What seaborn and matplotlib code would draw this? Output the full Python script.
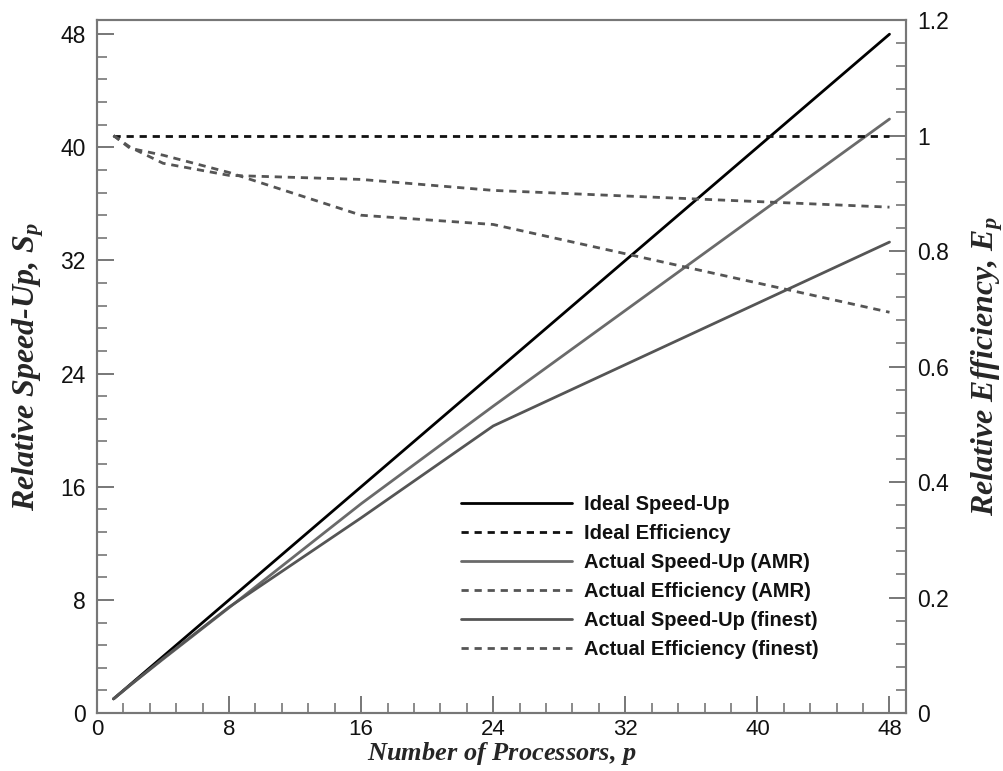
import numpy as np
import pandas as pd
import seaborn as sns
import matplotlib.pyplot as plt
from matplotlib.ticker import MultipleLocator

sns.set_style("ticks")
plt.rcParams['font.family'] = ['Liberation Sans', 'DejaVu Sans']
plt.rcParams['mathtext.fontset'] = 'custom'
plt.rcParams['mathtext.it'] = 'Liberation Serif:bold:italic'
plt.rcParams['mathtext.rm'] = 'Liberation Serif:bold'

# number of processors
procs = [1, 2, 4, 8, 16, 24, 48]

# speed-up (left axis)
ideal_speedup = [1, 2, 4, 8, 16, 24, 48]
amr_speedup = [1, 1.96, 3.81, 7.45, 14.8, 21.7, 42.0]
finest_speedup = [1, 1.96, 3.86, 7.49, 13.8, 20.3, 33.3]

# efficiency (right axis)
ideal_eff = [1, 1, 1, 1, 1, 1, 1]
amr_eff = [1, 0.98, 0.952, 0.931, 0.924, 0.905, 0.876]
finest_eff = [1, 0.978, 0.966, 0.936, 0.862, 0.846, 0.694]

labels = ["Ideal Speed-Up", "Ideal Efficiency",
          "Actual Speed-Up (AMR)", "Actual Efficiency (AMR)",
          "Actual Speed-Up (finest)", "Actual Efficiency (finest)"]

df = pd.DataFrame({"p": procs,
                   "ideal_s": ideal_speedup, "amr_s": amr_speedup, "fin_s": finest_speedup,
                   "ideal_e": ideal_eff, "amr_e": amr_eff, "fin_e": finest_eff})

fig = plt.figure(figsize=(10.04, 7.71), dpi=100)
ax = fig.add_axes([0.0966, 0.0752, 0.8058, 0.8988])
ax2 = ax.twinx()

lw = 2.0
dash = (2.6, 2.1)
sns.lineplot(data=df, x="p", y="ideal_s", ax=ax, color="#000000", lw=lw, label=labels[0])
sns.lineplot(data=df, x="p", y="amr_s", ax=ax, color="#6a6a6a", lw=lw, label=labels[2])
sns.lineplot(data=df, x="p", y="fin_s", ax=ax, color="#555555", lw=lw, label=labels[4])
sns.lineplot(data=df, x="p", y="ideal_e", ax=ax2, color="#111111", lw=lw, label=labels[1])
sns.lineplot(data=df, x="p", y="amr_e", ax=ax2, color="#555555", lw=lw, label=labels[3])
sns.lineplot(data=df, x="p", y="fin_e", ax=ax2, color="#555555", lw=lw, label=labels[5])
for ln in ax2.get_lines():
    ln.set_dashes(dash)

ax.set_xlim(0, 49)
ax.set_ylim(0, 49)
ax2.set_ylim(0, 1.2)

ax.xaxis.set_major_locator(MultipleLocator(8))
ax.xaxis.set_minor_locator(MultipleLocator(1.6))
ax.yaxis.set_major_locator(MultipleLocator(8))
ax.yaxis.set_minor_locator(MultipleLocator(1.6))
ax2.yaxis.set_minor_locator(MultipleLocator(0.04))
ax2.set_yticks([0, 0.2, 0.4, 0.6, 0.8, 1.0, 1.2])
ax2.set_yticklabels(["0", "0.2", "0.4", "0.6", "0.8", "1", "1.2"])

spine_c = "#777777"
for a in (ax, ax2):
    for s in a.spines.values():
        s.set_color(spine_c)
        s.set_linewidth(1.5)
    a.tick_params(which="major", direction="in", length=12, width=1.4, color=spine_c,
                  labelsize=16.5, pad=8, labelcolor="#111111")
    a.tick_params(which="minor", direction="in", length=7, width=1.2, color=spine_c)
ax.tick_params(axis="x", which="both", top=False, pad=4, labelsize=16)
ax.tick_params(axis="y", which="both", right=False)
ax2.tick_params(axis="y", which="both", left=False, right=True)

xlab_font = dict(family="Liberation Serif", weight="bold", style="italic", size=19)
ylab_font = dict(family="Liberation Serif", weight="bold", style="italic", size=23)
ax.set_xlabel("Number of Processors, $p$", fontdict=xlab_font, labelpad=0)
ax.set_ylabel("Relative Speed-Up, $S_p$", fontdict=ylab_font, labelpad=10)
ax2.set_ylabel("Relative Efficiency, $E_p$", fontdict=ylab_font, labelpad=15)

h1, _ = ax.get_legend_handles_labels()
h2, _ = ax2.get_legend_handles_labels()
ax.get_legend().remove()
ax2.get_legend().remove()
handles = [h1[0], h2[0], h1[1], h2[1], h1[2], h2[2]]
leg = ax2.legend(handles, labels, loc="upper left", bbox_to_anchor=(0.428, 0.341),
                 frameon=False, fontsize=14.5, handlelength=5.5, handletextpad=0.6,
                 labelspacing=0.5)
for t in leg.get_texts():
    t.set_fontweight("bold")
    t.set_color("#111111")

fig.savefig("out.png", dpi=100)
